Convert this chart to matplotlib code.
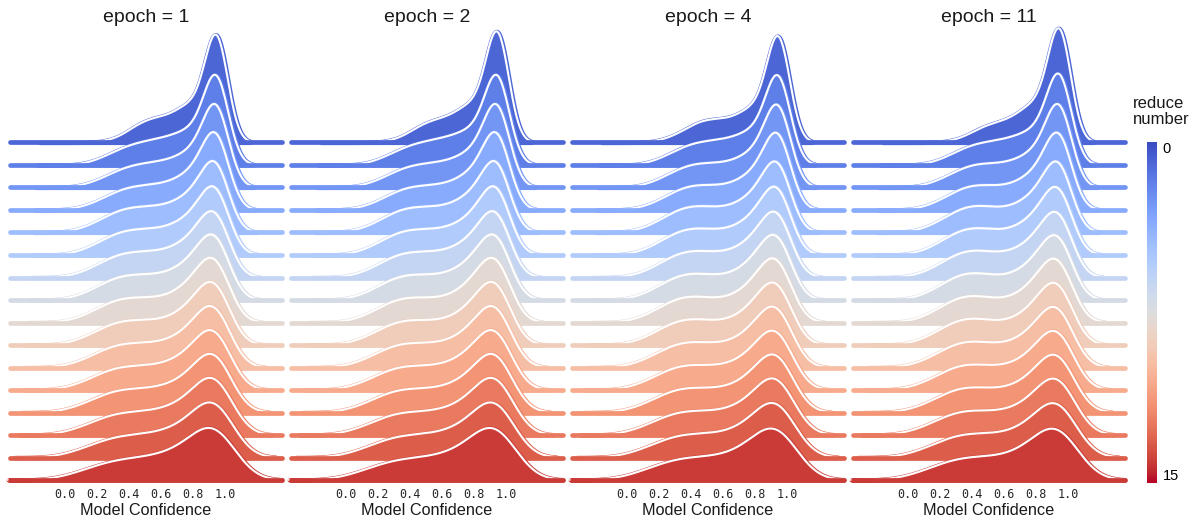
import numpy as np
import matplotlib
matplotlib.use("Agg")
import matplotlib.pyplot as plt
from matplotlib import colormaps
from matplotlib.colors import Normalize
from matplotlib.cm import ScalarMappable

# ---- data ----
epochs = [1, 2, 4, 11]
reduce_numbers = list(range(16))
# confidence bin centres; weights per bin for each (epoch, reduce number)
bin_centers = [0.05, 0.15, 0.25, 0.35, 0.45, 0.55, 0.65, 0.75, 0.85, 0.95]
# kde bandwidth per reduce number (from the width of the right flank)
bandwidth = [0.070, 0.075, 0.078, 0.080, 0.082, 0.085, 0.088, 0.090,
             0.093, 0.096, 0.100, 0.104, 0.108, 0.114, 0.122, 0.135]

weights_e1 = [
    [0.00, 0.00, 0.13, 0.62, 1.94, 2.65, 2.79, 4.08, 4.26, 18.0],
    [0.00, 0.20, 0.80, 1.60, 2.10, 2.40, 2.70, 3.30, 3.80, 14.0],
    [0.05, 0.35, 1.00, 1.80, 2.20, 2.40, 2.60, 3.30, 4.20, 13.0],
    [0.10, 0.45, 1.20, 2.00, 2.30, 2.40, 2.60, 3.40, 4.50, 12.0],
    [0.15, 0.60, 1.50, 2.30, 2.50, 2.50, 2.70, 3.50, 4.80, 11.0],
    [0.15, 0.65, 1.60, 2.35, 2.50, 2.50, 2.70, 3.50, 4.90, 10.6],
    [0.20, 0.70, 1.70, 2.40, 2.50, 2.50, 2.70, 3.50, 5.00, 10.3],
    [0.20, 0.75, 1.75, 2.40, 2.45, 2.40, 2.60, 3.45, 5.10, 10.1],
    [0.20, 0.80, 1.80, 2.40, 2.40, 2.30, 2.50, 3.40, 5.20, 10.0],
    [0.25, 0.85, 1.85, 2.40, 2.40, 2.30, 2.50, 3.40, 5.10, 10.0],
    [0.30, 0.90, 1.90, 2.40, 2.35, 2.35, 2.55, 3.40, 5.00, 10.2],
    [0.35, 0.95, 1.95, 2.40, 2.30, 2.40, 2.60, 3.45, 4.80, 10.5],
    [0.40, 1.00, 2.00, 2.40, 2.30, 2.40, 2.65, 3.45, 4.60, 10.9],
    [0.45, 1.05, 2.00, 2.40, 2.25, 2.45, 2.70, 3.50, 4.40, 11.5],
    [0.50, 1.10, 2.00, 2.35, 2.25, 2.50, 2.75, 3.50, 4.20, 12.0],
    [0.60, 1.20, 2.00, 2.30, 2.20, 2.50, 2.80, 3.50, 4.00, 12.6],
]
weights_e2 = [
    [0.00, 0.00, 0.10, 0.50, 1.70, 2.40, 2.70, 4.00, 4.30, 18.3],
    [0.00, 0.20, 0.80, 1.60, 2.10, 2.40, 2.70, 3.30, 3.80, 14.0],
    [0.05, 0.35, 1.05, 1.85, 2.20, 2.35, 2.55, 3.30, 4.20, 13.0],
    [0.10, 0.45, 1.25, 2.05, 2.30, 2.35, 2.55, 3.40, 4.50, 12.0],
    [0.15, 0.60, 1.55, 2.35, 2.50, 2.45, 2.65, 3.50, 4.80, 11.0],
    [0.15, 0.65, 1.65, 2.40, 2.50, 2.45, 2.65, 3.50, 4.90, 10.6],
    [0.20, 0.70, 1.75, 2.45, 2.50, 2.45, 2.65, 3.50, 5.00, 10.3],
    [0.20, 0.75, 1.80, 2.45, 2.45, 2.35, 2.55, 3.45, 5.10, 10.1],
    [0.20, 0.80, 1.85, 2.45, 2.40, 2.25, 2.45, 3.40, 5.20, 10.0],
    [0.25, 0.85, 1.90, 2.45, 2.40, 2.25, 2.45, 3.40, 5.10, 10.0],
    [0.30, 0.90, 1.95, 2.45, 2.35, 2.30, 2.50, 3.40, 5.00, 10.2],
    [0.35, 0.95, 2.00, 2.45, 2.30, 2.35, 2.55, 3.45, 4.80, 10.5],
    [0.40, 1.00, 2.05, 2.45, 2.30, 2.35, 2.60, 3.45, 4.60, 10.9],
    [0.45, 1.05, 2.05, 2.45, 2.25, 2.40, 2.65, 3.50, 4.40, 11.5],
    [0.50, 1.10, 2.05, 2.40, 2.25, 2.45, 2.70, 3.50, 4.20, 12.0],
    [0.60, 1.20, 2.05, 2.35, 2.20, 2.45, 2.75, 3.50, 4.00, 12.6],
]
weights_e4 = [
    [0.00, 0.05, 0.40, 1.20, 2.30, 2.50, 2.50, 3.60, 4.10, 17.8],
    [0.00, 0.25, 0.90, 1.75, 2.20, 2.35, 2.55, 3.20, 3.80, 14.0],
    [0.05, 0.40, 1.15, 2.00, 2.35, 2.30, 2.45, 3.20, 4.20, 13.0],
    [0.10, 0.50, 1.35, 2.20, 2.45, 2.30, 2.45, 3.30, 4.50, 12.0],
    [0.15, 0.65, 1.65, 2.50, 2.65, 2.40, 2.50, 3.40, 4.80, 11.0],
    [0.15, 0.70, 1.75, 2.55, 2.65, 2.40, 2.50, 3.40, 4.90, 10.6],
    [0.20, 0.75, 1.85, 2.60, 2.65, 2.40, 2.50, 3.40, 5.00, 10.3],
    [0.20, 0.80, 1.90, 2.60, 2.60, 2.30, 2.40, 3.35, 5.10, 10.1],
    [0.20, 0.85, 1.95, 2.60, 2.55, 2.20, 2.35, 3.30, 5.20, 10.0],
    [0.25, 0.90, 2.00, 2.60, 2.55, 2.20, 2.35, 3.30, 5.10, 10.0],
    [0.30, 0.95, 2.05, 2.60, 2.50, 2.25, 2.40, 3.30, 5.00, 10.2],
    [0.35, 1.00, 2.10, 2.60, 2.45, 2.30, 2.45, 3.35, 4.80, 10.5],
    [0.40, 1.05, 2.15, 2.60, 2.45, 2.30, 2.50, 3.35, 4.60, 10.9],
    [0.45, 1.10, 2.15, 2.60, 2.40, 2.35, 2.55, 3.40, 4.40, 11.5],
    [0.50, 1.15, 2.15, 2.55, 2.40, 2.40, 2.60, 3.40, 4.20, 12.0],
    [0.60, 1.25, 2.15, 2.50, 2.35, 2.40, 2.65, 3.40, 4.00, 12.6],
]
weights_e11 = [
    [0.00, 0.00, 0.10, 0.50, 1.50, 2.00, 2.40, 3.80, 4.20, 18.0],
    [0.00, 0.20, 0.80, 1.65, 2.10, 2.30, 2.60, 3.20, 3.80, 14.2],
    [0.05, 0.40, 1.10, 1.95, 2.30, 2.25, 2.45, 3.20, 4.20, 13.0],
    [0.10, 0.50, 1.35, 2.25, 2.45, 2.25, 2.40, 3.30, 4.50, 12.0],
    [0.15, 0.65, 1.65, 2.55, 2.70, 2.35, 2.45, 3.40, 4.80, 11.0],
    [0.15, 0.70, 1.80, 2.65, 2.70, 2.35, 2.45, 3.40, 4.90, 10.6],
    [0.20, 0.75, 1.90, 2.70, 2.70, 2.35, 2.45, 3.40, 5.00, 10.3],
    [0.20, 0.80, 1.95, 2.75, 2.65, 2.25, 2.35, 3.35, 5.10, 10.1],
    [0.20, 0.85, 2.00, 2.75, 2.60, 2.15, 2.30, 3.30, 5.20, 10.0],
    [0.25, 0.90, 2.05, 2.75, 2.60, 2.15, 2.30, 3.30, 5.10, 10.0],
    [0.30, 0.95, 2.10, 2.75, 2.55, 2.20, 2.35, 3.30, 5.00, 10.2],
    [0.35, 1.00, 2.15, 2.75, 2.50, 2.25, 2.40, 3.35, 4.80, 10.5],
    [0.40, 1.05, 2.20, 2.75, 2.50, 2.25, 2.45, 3.35, 4.60, 10.9],
    [0.45, 1.10, 2.20, 2.70, 2.45, 2.30, 2.50, 3.40, 4.40, 11.5],
    [0.50, 1.15, 2.20, 2.65, 2.45, 2.35, 2.55, 3.40, 4.20, 12.0],
    [0.60, 1.25, 2.20, 2.60, 2.40, 2.35, 2.60, 3.40, 4.00, 12.6],
]
panel_weights = [weights_e1, weights_e2, weights_e4, weights_e11]
xticks = [0.0, 0.2, 0.4, 0.6, 0.8, 1.0]

# ---- layout ----
W, H = 1197, 519
fig = plt.figure(figsize=(W / 100, H / 100), dpi=100)
plt.rcParams['font.family'] = ['Liberation Sans', 'DejaVu Sans']

PX_PER_DENS = 33.0          # pixels per unit of density
ROW_STEP = 22.5 / PX_PER_DENS
XLIM = (-0.344, 1.356)
ax_top_px, ax_bot_px = 20, 485
base_bottom_px = 480
y_lo = -(ax_bot_px - base_bottom_px) / PX_PER_DENS
y_hi = (base_bottom_px - ax_top_px) / PX_PER_DENS
panel_left_px = [10, 291, 572, 853]
panel_w_px = 272

cmap = colormaps['coolwarm']
colors = cmap(np.linspace(0, 1, len(reduce_numbers) + 2)[1:-1])
centers = np.array(bin_centers)


def kde(w, bw):
    # weighted gaussian kde, support cut at 3 bandwidths like seaborn
    w = np.asarray(w, dtype=float)
    grid = np.linspace(centers.min() - 3 * bw, centers.max() + 3 * bw, 300)
    k = np.exp(-0.5 * ((grid[None, :] - centers[:, None]) / bw) ** 2)
    dens = (w[:, None] * k).sum(0) / (w.sum() * bw * np.sqrt(2 * np.pi))
    return grid, dens


for p, epoch in enumerate(epochs):
    ax = fig.add_axes([panel_left_px[p] / W, (H - ax_bot_px) / H,
                       panel_w_px / W, (ax_bot_px - ax_top_px) / H])
    n = len(reduce_numbers)
    for r in reduce_numbers:
        base = (n - 1 - r) * ROW_STEP
        grid, dens = kde(panel_weights[p][r], bandwidth[r])
        z = 10 + r * 4
        ax.fill_between(grid, base, base + dens, facecolor=colors[r],
                        edgecolor=colors[r], lw=3.0, zorder=z, clip_on=False)
        ax.plot(grid, base + dens, color='white', lw=1.5, zorder=z + 1,
                clip_on=False)
        ax.plot(XLIM, [base, base], color=colors[r], lw=3.4,
                solid_capstyle='round', zorder=z + 2, clip_on=False)
    ax.set_xlim(XLIM)
    ax.set_ylim(y_lo, y_hi)
    ax.set_yticks([])
    ax.set_xticks(xticks)
    ax.set_xticklabels([f"{t:.1f}" for t in xticks], family='DejaVu Sans Mono',
                       fontsize=8.5, color='#262626')
    ax.tick_params(axis='x', length=0, pad=2.5)
    for s in ax.spines.values():
        s.set_visible(False)
    ax.patch.set_alpha(0)
    ax.set_xlabel("Model Confidence", fontsize=11.7, labelpad=1, color='#1a1a1a')
    fig.text((panel_left_px[p] + panel_w_px / 2) / W, 1 - 18 / H,
             f"epoch = {epoch}", ha='center', va='center', fontsize=14,
             color='#1a1a1a')

# colorbar
cax = fig.add_axes([1147 / W, (H - 483) / H, 10 / W, 341 / H])
sm = ScalarMappable(norm=Normalize(0, 15), cmap=cmap)
cb = fig.colorbar(sm, cax=cax, ticks=[0, 15])
cb.outline.set_visible(False)
cax.invert_yaxis()
cax.tick_params(length=0, labelsize=10.5, pad=4)
labs = cax.get_yticklabels()
labs[0].set_va('top')
labs[-1].set_va('bottom')
fig.text(1133 / W, 1 - 96 / H, "reduce\nnumber", ha='left', va='top',
         fontsize=12, linespacing=1.1, color='#1a1a1a')

fig.savefig("out.png", dpi=100)
